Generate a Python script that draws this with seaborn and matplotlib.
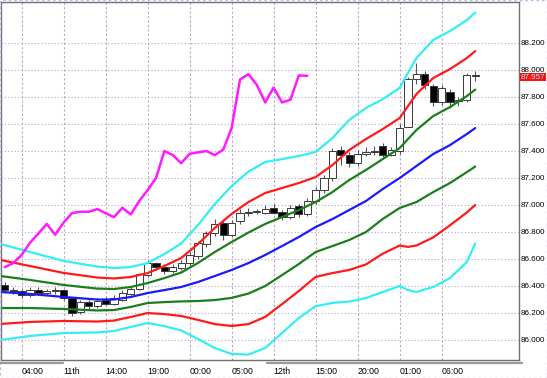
import seaborn as sns
import matplotlib.pyplot as plt
from matplotlib.lines import Line2D

# hourly candles (bar index 0..56)
opens  = [86.41, 86.37, 86.36, 86.33, 86.37, 86.35, 86.36, 86.37, 86.31, 86.21,
          86.28, 86.25, 86.30, 86.27, 86.30, 86.34, 86.38, 86.48, 86.57, 86.54,
          86.51, 86.53, 86.57, 86.62, 86.71, 86.79, 86.87, 86.78, 86.88, 86.94,
          86.95, 86.94, 86.98, 86.95, 86.91, 86.99, 86.93, 87.03, 87.11, 87.20,
          87.41, 87.37, 87.31, 87.38, 87.39, 87.44, 87.37, 87.40, 87.58, 87.93,
          87.97, 87.88, 87.76, 87.84, 87.77, 87.78, 87.96]
highs  = [86.43, 86.39, 86.38, 86.39, 86.39, 86.38, 86.39, 86.38, 86.32, 86.30,
          86.30, 86.31, 86.32, 86.33, 86.37, 86.40, 86.50, 86.59, 86.58, 86.56,
          86.56, 86.59, 86.65, 86.73, 86.81, 86.90, 86.89, 86.89, 86.97, 86.98,
          86.97, 87.00, 87.01, 86.96, 87.00, 87.01, 87.05, 87.13, 87.22, 87.42,
          87.44, 87.39, 87.41, 87.43, 87.44, 87.46, 87.43, 87.60, 87.95, 88.05,
          87.99, 87.90, 87.89, 87.86, 87.80, 87.98, 87.99]
lows   = [86.35, 86.34, 86.31, 86.32, 86.33, 86.33, 86.34, 86.30, 86.18, 86.19,
          86.23, 86.24, 86.26, 86.26, 86.29, 86.33, 86.37, 86.47, 86.52, 86.49,
          86.50, 86.52, 86.55, 86.60, 86.69, 86.77, 86.74, 86.76, 86.86, 86.92,
          86.93, 86.93, 86.93, 86.89, 86.90, 86.91, 86.92, 87.01, 87.09, 87.18,
          87.30, 87.28, 87.29, 87.36, 87.37, 87.35, 87.36, 87.38, 87.58, 87.90,
          87.86, 87.73, 87.74, 87.72, 87.73, 87.76, 87.92]
closes = [86.37, 86.36, 86.33, 86.37, 86.35, 86.36, 86.37, 86.31, 86.20, 86.28,
          86.25, 86.29, 86.27, 86.31, 86.35, 86.38, 86.49, 86.57, 86.54, 86.51,
          86.54, 86.57, 86.63, 86.72, 86.79, 86.86, 86.78, 86.87, 86.94, 86.95,
          86.95, 86.97, 86.94, 86.91, 86.98, 86.93, 87.03, 87.11, 87.20, 87.40,
          87.37, 87.31, 87.38, 87.39, 87.40, 87.37, 87.41, 87.57, 87.93, 87.97,
          87.89, 87.76, 87.87, 87.76, 87.78, 87.96, 87.957]

# bollinger bands sampled at these bar positions
band_x   = [-0.5, 3, 7, 11, 13, 15, 17, 19, 21, 23, 25, 27, 29, 31, 33, 35,
            37, 39, 41, 43, 45, 47, 48, 49, 51, 53, 55, 56]
mid      = [86.356, 86.341, 86.319, 86.300, 86.300, 86.319, 86.348, 86.370,
            86.393, 86.430, 86.474, 86.519, 86.570, 86.630, 86.696, 86.763,
            86.837, 86.896, 86.963, 87.030, 87.119, 87.200, 87.244, 87.289,
            87.378, 87.444, 87.526, 87.570]
upper1   = [86.474, 86.445, 86.408, 86.381, 86.378, 86.393, 86.422, 86.459,
            86.500, 86.571, 86.652, 86.726, 86.796, 86.860, 86.911, 86.963,
            87.022, 87.096, 87.185, 87.260, 87.341, 87.422, 87.489, 87.556,
            87.659, 87.726, 87.807, 87.855]
upper2   = [86.593, 86.548, 86.497, 86.463, 86.456, 86.467, 86.496, 86.548,
            86.608, 86.711, 86.830, 86.934, 87.022, 87.089, 87.126, 87.163,
            87.207, 87.296, 87.407, 87.489, 87.563, 87.644, 87.733, 87.822,
            87.941, 88.007, 88.089, 88.140]
upper3   = [86.711, 86.652, 86.586, 86.544, 86.533, 86.541, 86.570, 86.637,
            86.715, 86.852, 87.007, 87.141, 87.248, 87.319, 87.340, 87.363,
            87.393, 87.496, 87.630, 87.719, 87.785, 87.867, 87.978, 88.089,
            88.222, 88.289, 88.370, 88.426]
lower1   = [86.237, 86.237, 86.230, 86.219, 86.222, 86.245, 86.274, 86.281,
            86.286, 86.289, 86.296, 86.312, 86.344, 86.400, 86.481, 86.563,
            86.652, 86.696, 86.741, 86.800, 86.897, 86.978, 87.000, 87.022,
            87.096, 87.163, 87.244, 87.285]
lower2   = [86.119, 86.134, 86.141, 86.137, 86.144, 86.171, 86.200, 86.192,
            86.178, 86.149, 86.118, 86.104, 86.118, 86.171, 86.266, 86.363,
            86.467, 86.496, 86.519, 86.560, 86.640, 86.700, 86.690, 86.700,
            86.760, 86.850, 86.945, 87.000]
lower3   = [86.000, 86.030, 86.052, 86.056, 86.067, 86.097, 86.126, 86.103,
            86.071, 86.008, 85.941, 85.897, 85.892, 85.941, 86.052, 86.163,
            86.250, 86.275, 86.285, 86.311, 86.356, 86.400, 86.370, 86.356,
            86.393, 86.459, 86.578, 86.715]

lag = 20  # lagging span shift in bars

time_labels = ["04:00", "11th", "14:00", "19:00", "00:00", "05:00",
               "12th", "15:00", "20:00", "01:00", "06:00"]
time_pos = [2, 7, 12, 17, 22, 27, 32, 37, 42, 47, 52]
price_ticks = [86.0, 86.2, 86.4, 86.6, 86.8, 87.0, 87.2, 87.4, 87.6, 87.8, 88.0, 88.2]
last_price = 87.957

sns.set_style("white")
plt.rcParams["font.family"] = ["Liberation Sans", "DejaVu Sans"]

W, H = 547, 378
fig = plt.figure(figsize=(W / 100, H / 100), dpi=100)
ax = fig.add_axes([1 / W, 18 / H, 518 / W, 358 / H])
ax.set_xlim(-0.452, 61.21)
ax.set_ylim(85.852, 88.504)

# grid
for p in price_ticks:
    ax.axhline(p, color="#b9a3c9", lw=0.8, ls=(0, (1, 2)), zorder=0)
for x in time_pos:
    ax.axvline(x, color="#c3a3c8", lw=0.8, ls=(0, (2, 2)), zorder=0)

# candles
for i in range(len(opens)):
    o, h, l, c = opens[i], highs[i], lows[i], closes[i]
    ax.vlines(i, l, h, color="#555555", lw=0.8, zorder=2)
    bottom = min(o, c)
    height = max(abs(c - o), 0.004)
    face = "white" if c >= o else "black"
    ax.bar(i, height, bottom=bottom, width=0.85, color=face,
           edgecolor="#3a3a3a", linewidth=0.7, zorder=3)

# bands
bands = [(upper3, "#33eef5"), (upper2, "#ff1a1a"), (upper1, "#1a7f1a"),
         (mid, "#1a1aff"), (lower1, "#1a7f1a"), (lower2, "#ff1a1a"),
         (lower3, "#33eef5")]
for vals, col in bands:
    sns.lineplot(x=band_x, y=vals, ax=ax, color=col, linewidth=1.6, zorder=4)

# lagging span
lag_x = list(range(len(closes) - lag))
sns.lineplot(x=lag_x, y=closes[lag:], ax=ax, color="#ff1aff", linewidth=1.8, zorder=5)

ax.set_xticks([])
ax.set_yticks([])
ax.set_xlabel("")
ax.set_ylabel("")
for s in ax.spines.values():
    s.set_color("#707070")
    s.set_linewidth(1.0)

# right price labels
ty = ax.get_yaxis_transform()
for p in price_ticks:
    ax.text(1.003, p, f"{p:.3f}", transform=ty, fontsize=5.8, va="center",
            ha="left", color="black", clip_on=False)
ax.text(1.003, last_price - 0.01, f"{last_price:.3f}", transform=ty, fontsize=5.8,
        va="center", ha="left", color="#7ff7ff", clip_on=False,
        bbox=dict(facecolor="#ff1010", edgecolor="none", pad=0.5))

# time labels
tx = ax.get_xaxis_transform()
for x, lab in zip(time_pos, time_labels):
    ax.text(x, -0.033, lab, transform=tx, fontsize=6.3, va="center", ha="left",
            color="black", clip_on=False)

# scrollbar strip under the plot
fig.add_artist(Line2D([0, 63 / W], [1 - 363 / H] * 2, color="#9a9a9a", lw=1.6))
fig.add_artist(Line2D([267 / W, 522 / W], [1 - 363 / H] * 2, color="#9a9a9a", lw=1.6))
# outer frame
fig.add_artist(plt.Rectangle((0, 0), 1, 1, transform=fig.transFigure, fill=False,
                             edgecolor="#c8b6e8", lw=1.0, ls=(0, (2, 2))))

fig.savefig("out.png", dpi=100)
